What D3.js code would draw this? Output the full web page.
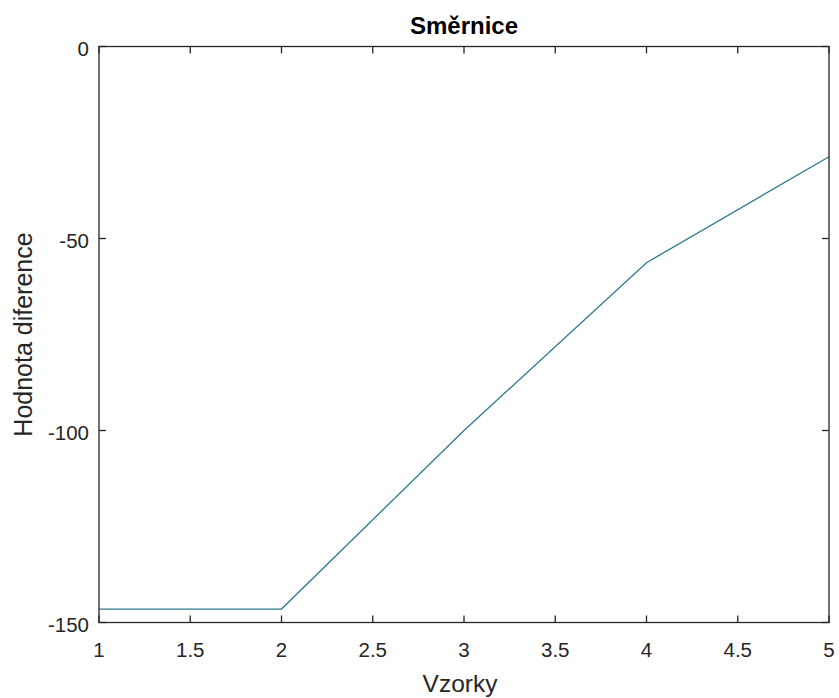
<!DOCTYPE html>
<html>
<head>
<meta charset="utf-8">
<script src="https://cdn.jsdelivr.net/npm/d3@7"></script>
<style>
  body { margin: 0; background: #fff; }
  text { font-family: "Liberation Sans", Arial, sans-serif; fill: #262626; }
</style>
</head>
<body>
<div id="chart"></div>
<script>
// data
const samples = [1, 2, 3, 4, 5];
const slopeValues = [-146.5, -146.5, -100, -56.3, -28.7];
const xTicks = [1, 1.5, 2, 2.5, 3, 3.5, 4, 4.5, 5];
const yTicks = [-150, -100, -50, 0];

const width = 839, height = 698;
const plotLeft = 99, plotRight = 829, plotTop = 46.5, plotBottom = 622.5;
const axisColor = "#262626";
const tickLen = 7;

const svg = d3.select("#chart").append("svg")
  .attr("width", width)
  .attr("height", height);

let x = d3.scaleLinear().domain([1, 5]).range([plotLeft, plotRight]);
let y = d3.scaleLinear().domain([-150, 0]).range([plotBottom, plotTop]);

// data line
const line = d3.line()
  .x((d, i) => x(samples[i]))
  .y(d => y(d));

svg.append("path")
  .datum(slopeValues)
  .attr("d", line)
  .attr("fill", "none")
  .attr("stroke", "#2a7a8e")
  .attr("stroke-width", 1.3);

// box
svg.append("rect")
  .attr("x", plotLeft).attr("y", plotTop)
  .attr("width", plotRight - plotLeft).attr("height", plotBottom - plotTop)
  .attr("fill", "none")
  .attr("stroke", axisColor)
  .attr("stroke-width", 1.3);

// ticks pointing inward on all four sides
let ticks = svg.append("g").attr("stroke", axisColor).attr("stroke-width", 1.3);
xTicks.forEach(t => {
  ticks.append("line").attr("x1", x(t)).attr("x2", x(t)).attr("y1", plotBottom).attr("y2", plotBottom - tickLen);
  ticks.append("line").attr("x1", x(t)).attr("x2", x(t)).attr("y1", plotTop).attr("y2", plotTop + tickLen);
});
yTicks.forEach(t => {
  ticks.append("line").attr("x1", plotLeft).attr("x2", plotLeft + tickLen).attr("y1", y(t)).attr("y2", y(t));
  ticks.append("line").attr("x1", plotRight).attr("x2", plotRight - tickLen).attr("y1", y(t)).attr("y2", y(t));
});

// tick labels
svg.selectAll(".xlab")
  .data(xTicks)
  .enter().append("text")
    .attr("x", d => x(d))
    .attr("y", 657)
    .attr("text-anchor", "middle")
    .style("font-size", "20.5px")
    .text(d => d);

svg.selectAll(".ylab")
  .data(yTicks)
  .enter().append("text")
    .attr("x", 89)
    .attr("y", d => y(d) + 9.5)
    .attr("text-anchor", "end")
    .style("font-size", "20.5px")
    .text(d => d < 0 ? "-" + Math.abs(d) : d);

// axis titles
svg.append("text")
  .attr("x", 460)
  .attr("y", 692)
  .attr("text-anchor", "middle")
  .style("font-size", "24.5px")
  .text("Vzorky");

svg.append("text")
  .attr("transform", "translate(32," + ((plotTop + plotBottom) / 2) + ") rotate(-90)")
  .attr("text-anchor", "middle")
  .style("font-size", "25px")
  .text("Hodnota diference");

svg.append("text")
  .attr("x", 464)
  .attr("y", 34)
  .attr("text-anchor", "middle")
  .style("font-size", "24px")
  .style("font-weight", "bold")
  .style("fill", "#000")
  .text("Směrnice");
</script>
</body>
</html>
